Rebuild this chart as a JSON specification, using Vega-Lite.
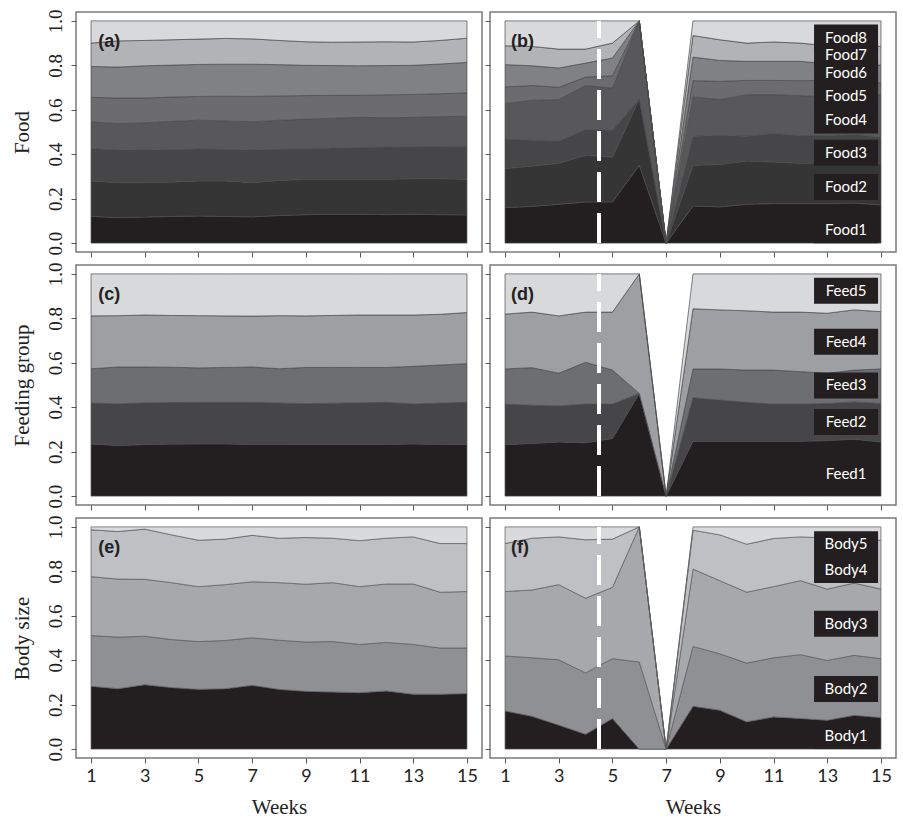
{
  "$schema": "https://vega.github.io/schema/vega-lite/v6.json",
  "padding": {"left": 10, "top": 8, "right": 4, "bottom": 0},
  "background": "white",
  "datasets": {
    "fa": [
      {"w":1,"Food1":0.120,"Food2":0.160,"Food3":0.145,"Food4":0.121,"Food5":0.110,"Food6":0.139,"Food7":0.105,"Food8":0.100},
      {"w":2,"Food1":0.115,"Food2":0.157,"Food3":0.148,"Food4":0.118,"Food5":0.115,"Food6":0.139,"Food7":0.118,"Food8":0.090},
      {"w":3,"Food1":0.117,"Food2":0.155,"Food3":0.147,"Food4":0.122,"Food5":0.112,"Food6":0.145,"Food7":0.114,"Food8":0.088},
      {"w":4,"Food1":0.120,"Food2":0.155,"Food3":0.146,"Food4":0.127,"Food5":0.109,"Food6":0.144,"Food7":0.114,"Food8":0.085},
      {"w":5,"Food1":0.122,"Food2":0.158,"Food3":0.143,"Food4":0.130,"Food5":0.107,"Food6":0.144,"Food7":0.114,"Food8":0.082},
      {"w":6,"Food1":0.120,"Food2":0.160,"Food3":0.142,"Food4":0.128,"Food5":0.111,"Food6":0.144,"Food7":0.116,"Food8":0.079},
      {"w":7,"Food1":0.118,"Food2":0.154,"Food3":0.147,"Food4":0.127,"Food5":0.114,"Food6":0.145,"Food7":0.114,"Food8":0.081},
      {"w":8,"Food1":0.124,"Food2":0.158,"Food3":0.140,"Food4":0.131,"Food5":0.109,"Food6":0.141,"Food7":0.109,"Food8":0.088},
      {"w":9,"Food1":0.128,"Food2":0.159,"Food3":0.138,"Food4":0.133,"Food5":0.106,"Food6":0.136,"Food7":0.106,"Food8":0.094},
      {"w":10,"Food1":0.130,"Food2":0.157,"Food3":0.141,"Food4":0.134,"Food5":0.103,"Food6":0.134,"Food7":0.105,"Food8":0.096},
      {"w":11,"Food1":0.130,"Food2":0.157,"Food3":0.143,"Food4":0.136,"Food5":0.099,"Food6":0.133,"Food7":0.107,"Food8":0.095},
      {"w":12,"Food1":0.128,"Food2":0.159,"Food3":0.145,"Food4":0.132,"Food5":0.103,"Food6":0.132,"Food7":0.107,"Food8":0.094},
      {"w":13,"Food1":0.130,"Food2":0.160,"Food3":0.144,"Food4":0.132,"Food5":0.103,"Food6":0.131,"Food7":0.105,"Food8":0.095},
      {"w":14,"Food1":0.128,"Food2":0.162,"Food3":0.145,"Food4":0.134,"Food5":0.103,"Food6":0.134,"Food7":0.106,"Food8":0.088},
      {"w":15,"Food1":0.127,"Food2":0.160,"Food3":0.149,"Food4":0.135,"Food5":0.105,"Food6":0.137,"Food7":0.109,"Food8":0.078}
    ],
    "fb": [
      {"w":1,"Food1":0.160,"Food2":0.175,"Food3":0.134,"Food4":0.159,"Food5":0.075,"Food6":0.100,"Food7":0.085,"Food8":0.112},
      {"w":2,"Food1":0.165,"Food2":0.182,"Food3":0.116,"Food4":0.180,"Food5":0.066,"Food6":0.089,"Food7":0.087,"Food8":0.115},
      {"w":3,"Food1":0.175,"Food2":0.184,"Food3":0.100,"Food4":0.187,"Food5":0.055,"Food6":0.087,"Food7":0.085,"Food8":0.127},
      {"w":4,"Food1":0.185,"Food2":0.210,"Food3":0.116,"Food4":0.198,"Food5":0.038,"Food6":0.063,"Food7":0.063,"Food8":0.127},
      {"w":5,"Food1":0.185,"Food2":0.202,"Food3":0.121,"Food4":0.190,"Food5":0.055,"Food6":0.080,"Food7":0.067,"Food8":0.100},
      {"w":6,"Food1":0.350,"Food2":0.299,"Food3":0,"Food4":0.351,"Food5":0,"Food6":0,"Food7":0,"Food8":0},
      {"w":7,"Food1":0,"Food2":0,"Food3":0,"Food4":0,"Food5":0,"Food6":0,"Food7":0,"Food8":0},
      {"w":8,"Food1":0.167,"Food2":0.183,"Food3":0.131,"Food4":0.177,"Food5":0.073,"Food6":0.106,"Food7":0.097,"Food8":0.066},
      {"w":9,"Food1":0.163,"Food2":0.191,"Food3":0.130,"Food4":0.162,"Food5":0.082,"Food6":0.094,"Food7":0.093,"Food8":0.085},
      {"w":10,"Food1":0.175,"Food2":0.194,"Food3":0.112,"Food4":0.187,"Food5":0.064,"Food6":0.086,"Food7":0.082,"Food8":0.100},
      {"w":11,"Food1":0.178,"Food2":0.187,"Food3":0.128,"Food4":0.175,"Food5":0.064,"Food6":0.086,"Food7":0.087,"Food8":0.095},
      {"w":12,"Food1":0.178,"Food2":0.181,"Food3":0.125,"Food4":0.180,"Food5":0.067,"Food6":0.087,"Food7":0.082,"Food8":0.100},
      {"w":13,"Food1":0.178,"Food2":0.184,"Food3":0.122,"Food4":0.174,"Food5":0.074,"Food6":0.075,"Food7":0.081,"Food8":0.112},
      {"w":14,"Food1":0.180,"Food2":0.182,"Food3":0.128,"Food4":0.174,"Food5":0.079,"Food6":0.077,"Food7":0.070,"Food8":0.110},
      {"w":15,"Food1":0.172,"Food2":0.187,"Food3":0.117,"Food4":0.192,"Food5":0.052,"Food6":0.080,"Food7":0.085,"Food8":0.115}
    ],
    "ga": [
      {"w":1,"Feed1":0.235,"Feed2":0.184,"Feed3":0.154,"Feed4":0.238,"Feed5":0.189},
      {"w":2,"Feed1":0.228,"Feed2":0.187,"Feed3":0.166,"Feed4":0.231,"Feed5":0.188},
      {"w":3,"Feed1":0.232,"Feed2":0.188,"Feed3":0.161,"Feed4":0.234,"Feed5":0.185},
      {"w":4,"Feed1":0.234,"Feed2":0.187,"Feed3":0.159,"Feed4":0.233,"Feed5":0.187},
      {"w":5,"Feed1":0.235,"Feed2":0.187,"Feed3":0.155,"Feed4":0.235,"Feed5":0.188},
      {"w":6,"Feed1":0.235,"Feed2":0.187,"Feed3":0.157,"Feed4":0.232,"Feed5":0.189},
      {"w":7,"Feed1":0.233,"Feed2":0.189,"Feed3":0.159,"Feed4":0.229,"Feed5":0.190},
      {"w":8,"Feed1":0.233,"Feed2":0.186,"Feed3":0.154,"Feed4":0.239,"Feed5":0.188},
      {"w":9,"Feed1":0.232,"Feed2":0.184,"Feed3":0.163,"Feed4":0.232,"Feed5":0.189},
      {"w":10,"Feed1":0.232,"Feed2":0.186,"Feed3":0.161,"Feed4":0.234,"Feed5":0.187},
      {"w":11,"Feed1":0.232,"Feed2":0.188,"Feed3":0.159,"Feed4":0.236,"Feed5":0.185},
      {"w":12,"Feed1":0.233,"Feed2":0.189,"Feed3":0.157,"Feed4":0.236,"Feed5":0.185},
      {"w":13,"Feed1":0.235,"Feed2":0.180,"Feed3":0.169,"Feed4":0.231,"Feed5":0.185},
      {"w":14,"Feed1":0.233,"Feed2":0.186,"Feed3":0.171,"Feed4":0.228,"Feed5":0.182},
      {"w":15,"Feed1":0.232,"Feed2":0.190,"Feed3":0.174,"Feed4":0.230,"Feed5":0.174}
    ],
    "gb": [
      {"w":1,"Feed1":0.232,"Feed2":0.182,"Feed3":0.158,"Feed4":0.247,"Feed5":0.181},
      {"w":2,"Feed1":0.237,"Feed2":0.172,"Feed3":0.169,"Feed4":0.250,"Feed5":0.172},
      {"w":3,"Feed1":0.244,"Feed2":0.162,"Feed3":0.147,"Feed4":0.258,"Feed5":0.189},
      {"w":4,"Feed1":0.240,"Feed2":0.174,"Feed3":0.188,"Feed4":0.226,"Feed5":0.172},
      {"w":5,"Feed1":0.259,"Feed2":0.155,"Feed3":0.153,"Feed4":0.261,"Feed5":0.172},
      {"w":6,"Feed1":0.462,"Feed2":0,"Feed3":0,"Feed4":0.538,"Feed5":0},
      {"w":7,"Feed1":0,"Feed2":0,"Feed3":0,"Feed4":0,"Feed5":0},
      {"w":8,"Feed1":0.247,"Feed2":0.196,"Feed3":0.129,"Feed4":0.271,"Feed5":0.157},
      {"w":9,"Feed1":0.247,"Feed2":0.185,"Feed3":0.140,"Feed4":0.266,"Feed5":0.162},
      {"w":10,"Feed1":0.247,"Feed2":0.175,"Feed3":0.145,"Feed4":0.267,"Feed5":0.166},
      {"w":11,"Feed1":0.247,"Feed2":0.167,"Feed3":0.153,"Feed4":0.261,"Feed5":0.172},
      {"w":12,"Feed1":0.247,"Feed2":0.167,"Feed3":0.146,"Feed4":0.268,"Feed5":0.172},
      {"w":13,"Feed1":0.250,"Feed2":0.167,"Feed3":0.136,"Feed4":0.270,"Feed5":0.177},
      {"w":14,"Feed1":0.256,"Feed2":0.168,"Feed3":0.143,"Feed4":0.271,"Feed5":0.162},
      {"w":15,"Feed1":0.244,"Feed2":0.173,"Feed3":0.155,"Feed4":0.258,"Feed5":0.170}
    ],
    "ba": [
      {"w":1,"Body1":0.283,"Body2":0.228,"Body3":0.265,"Body4":0.211,"Body5":0.013},
      {"w":2,"Body1":0.272,"Body2":0.232,"Body3":0.261,"Body4":0.214,"Body5":0.021},
      {"w":3,"Body1":0.290,"Body2":0.218,"Body3":0.256,"Body4":0.226,"Body5":0.010},
      {"w":4,"Body1":0.277,"Body2":0.216,"Body3":0.256,"Body4":0.215,"Body5":0.036},
      {"w":5,"Body1":0.269,"Body2":0.215,"Body3":0.247,"Body4":0.209,"Body5":0.060},
      {"w":6,"Body1":0.272,"Body2":0.217,"Body3":0.251,"Body4":0.205,"Body5":0.055},
      {"w":7,"Body1":0.287,"Body2":0.214,"Body3":0.252,"Body4":0.209,"Body5":0.038},
      {"w":8,"Body1":0.269,"Body2":0.221,"Body3":0.259,"Body4":0.200,"Body5":0.051},
      {"w":9,"Body1":0.260,"Body2":0.222,"Body3":0.260,"Body4":0.210,"Body5":0.048},
      {"w":10,"Body1":0.257,"Body2":0.227,"Body3":0.265,"Body4":0.200,"Body5":0.051},
      {"w":11,"Body1":0.254,"Body2":0.217,"Body3":0.260,"Body4":0.207,"Body5":0.062},
      {"w":12,"Body1":0.262,"Body2":0.218,"Body3":0.263,"Body4":0.206,"Body5":0.051},
      {"w":13,"Body1":0.247,"Body2":0.224,"Body3":0.272,"Body4":0.212,"Body5":0.045},
      {"w":14,"Body1":0.247,"Body2":0.208,"Body3":0.251,"Body4":0.219,"Body5":0.075},
      {"w":15,"Body1":0.250,"Body2":0.205,"Body3":0.254,"Body4":0.216,"Body5":0.075}
    ],
    "bb": [
      {"w":1,"Body1":0.172,"Body2":0.247,"Body3":0.290,"Body4":0.216,"Body5":0.075},
      {"w":2,"Body1":0.148,"Body2":0.263,"Body3":0.305,"Body4":0.233,"Body5":0.051},
      {"w":3,"Body1":0.108,"Body2":0.294,"Body3":0.338,"Body4":0.215,"Body5":0.045},
      {"w":4,"Body1":0.067,"Body2":0.276,"Body3":0.336,"Body4":0.263,"Body5":0.058},
      {"w":5,"Body1":0.138,"Body2":0.269,"Body3":0.321,"Body4":0.217,"Body5":0.055},
      {"w":6,"Body1":0,"Body2":0.392,"Body3":0.608,"Body4":0,"Body5":0},
      {"w":7,"Body1":0,"Body2":0,"Body3":0,"Body4":0,"Body5":0},
      {"w":8,"Body1":0.193,"Body2":0.269,"Body3":0.348,"Body4":0.175,"Body5":0.015},
      {"w":9,"Body1":0.175,"Body2":0.254,"Body3":0.329,"Body4":0.206,"Body5":0.036},
      {"w":10,"Body1":0.123,"Body2":0.264,"Body3":0.319,"Body4":0.216,"Body5":0.078},
      {"w":11,"Body1":0.145,"Body2":0.266,"Body3":0.320,"Body4":0.217,"Body5":0.052},
      {"w":12,"Body1":0.138,"Body2":0.287,"Body3":0.333,"Body4":0.197,"Body5":0.045},
      {"w":13,"Body1":0.130,"Body2":0.269,"Body3":0.321,"Body4":0.230,"Body5":0.050},
      {"w":14,"Body1":0.152,"Body2":0.270,"Body3":0.325,"Body4":0.198,"Body5":0.055},
      {"w":15,"Body1":0.142,"Body2":0.265,"Body3":0.313,"Body4":0.220,"Body5":0.060}
    ],
    "lf": [
      {"lab":"Food8","y":0.925},{"lab":"Food7","y":0.848},{"lab":"Food6","y":0.765},{"lab":"Food5","y":0.664},
      {"lab":"Food4","y":0.552},{"lab":"Food3","y":0.407},{"lab":"Food2","y":0.253},{"lab":"Food1","y":0.058}
    ],
    "lg": [
      {"lab":"Feed5","y":0.924},{"lab":"Feed4","y":0.695},{"lab":"Feed3","y":0.498},{"lab":"Feed2","y":0.334},{"lab":"Feed1","y":0.101}
    ],
    "lb": [
      {"lab":"Body5","y":0.922},{"lab":"Body4","y":0.806},{"lab":"Body3","y":0.564},{"lab":"Body2","y":0.271},{"lab":"Body1","y":0.060}
    ]
  },
  "config": {
    "view": {"stroke": "#7a7a7a", "strokeWidth": 1.5},
    "axis": {"grid": false, "domain": false, "tickColor": "#555555", "tickSize": 5, "tickWidth": 1, "labelColor": "#222222", "titleColor": "#222222", "titleFontWeight": "normal"},
    "axisX": {"labelFont": "Lato", "labelFontSize": 18, "labelPadding": 4, "titleFont": "Liberation Serif", "titleFontSize": 21, "titlePadding": 11},
    "axisY": {"labelFont": "Liberation Serif", "labelFontSize": 19, "labelPadding": 6, "titleFont": "Liberation Serif", "titleFontSize": 21, "titlePadding": 14},
    "text": {"font": "Lato"}
  },
  "columns": 2,
  "spacing": {"row": 13, "column": 8},
  "bounds": "flush",
  "concat": [
    {
      "width": 406, "height": 240,
      "layer": [
        {
          "data": {"name": "fa"},
          "transform": [{"fold": ["Food1","Food2","Food3","Food4","Food5","Food6","Food7","Food8"], "as": ["cat","v"]}],
          "mark": {"type": "area", "stroke": "#4a4a4a", "strokeWidth": 0.7},
          "encoding": {
            "x": {"field": "w", "type": "quantitative", "scale": {"domain": [0.44, 15.56], "nice": false, "zero": false}, "axis": {"values": [1,3,5,7,9,11,13,15], "labels": false, "title": null}},
            "y": {"field": "v", "type": "quantitative", "stack": "zero", "scale": {"domain": [-0.04, 1.04], "nice": false, "zero": false}, "axis": {"values": [0,0.2,0.4,0.6,0.8,1], "format": ".1f", "labelAngle": -90, "title": "Food"}},
            "order": {"field": "cat", "type": "ordinal", "sort": "ascending"},
            "color": {"field": "cat", "type": "nominal", "legend": null, "scale": {"domain": ["Food1","Food2","Food3","Food4","Food5","Food6","Food7","Food8","Feed1","Feed2","Feed3","Feed4","Feed5","Body1","Body2","Body3","Body4","Body5"], "range": ["#231f20","#363536","#464547","#58585a","#6c6c6f","#808184","#b2b3b6","#d8d9db","#231f20","#464547","#6d6e71","#9d9fa2","#d8d9db","#231f20","#8f9093","#a6a8ab","#bfc0c3","#d9dadc"]}}
          }
        },
        {
          "data": {"values": [{"t": "(a)"}]},
          "mark": {"type": "text", "font": "Liberation Sans", "fontWeight": "bold", "fontSize": 18, "align": "left", "baseline": "middle", "color": "#222222"},
          "encoding": {"x": {"datum": 1.27}, "y": {"datum": 0.905}, "text": {"field": "t"}}
        }
      ]
    },
    {
      "width": 406, "height": 240,
      "layer": [
        {
          "data": {"name": "fb"},
          "transform": [{"fold": ["Food1","Food2","Food3","Food4","Food5","Food6","Food7","Food8"], "as": ["cat","v"]}],
          "mark": {"type": "area", "stroke": "#4a4a4a", "strokeWidth": 0.7},
          "encoding": {
            "x": {"field": "w", "type": "quantitative", "scale": {"domain": [0.44, 15.56], "nice": false, "zero": false}, "axis": {"values": [1,3,5,7,9,11,13,15], "labels": false, "title": null}},
            "y": {"field": "v", "type": "quantitative", "stack": "zero", "scale": {"domain": [-0.04, 1.04], "nice": false, "zero": false}, "axis": {"values": [0,0.2,0.4,0.6,0.8,1], "labels": false, "title": null}},
            "order": {"field": "cat", "type": "ordinal", "sort": "ascending"},
            "color": {"field": "cat", "type": "nominal", "legend": null, "scale": {"domain": ["Food1","Food2","Food3","Food4","Food5","Food6","Food7","Food8","Feed1","Feed2","Feed3","Feed4","Feed5","Body1","Body2","Body3","Body4","Body5"], "range": ["#231f20","#363536","#464547","#58585a","#6c6c6f","#808184","#b2b3b6","#d8d9db","#231f20","#464547","#6d6e71","#9d9fa2","#d8d9db","#231f20","#8f9093","#a6a8ab","#bfc0c3","#d9dadc"]}}
          }
        },
        {
          "data": {"values": [{"w": 4.5}]},
          "mark": {"type": "rule", "color": "white", "strokeWidth": 4, "strokeDash": [30, 11]},
          "encoding": {"x": {"field": "w", "type": "quantitative"}, "y": {"datum": 0}, "y2": {"datum": 1}}
        },
        {
          "data": {"name": "lf"},
          "mark": {"type": "rect", "width": 64, "height": 26, "color": "#231f20"},
          "encoding": {"x": {"datum": 13.7}, "y": {"field": "y", "type": "quantitative"}}
        },
        {
          "data": {"name": "lf"},
          "mark": {"type": "text", "font": "Lato", "fontSize": 15, "color": "white", "align": "center", "baseline": "middle"},
          "encoding": {"x": {"datum": 13.7}, "y": {"field": "y", "type": "quantitative"}, "text": {"field": "lab"}}
        },
        {
          "data": {"values": [{"t": "(b)"}]},
          "mark": {"type": "text", "font": "Liberation Sans", "fontWeight": "bold", "fontSize": 18, "align": "left", "baseline": "middle", "color": "#222222"},
          "encoding": {"x": {"datum": 1.22}, "y": {"datum": 0.905}, "text": {"field": "t"}}
        }
      ]
    },
    {
      "width": 406, "height": 240,
      "layer": [
        {
          "data": {"name": "ga"},
          "transform": [{"fold": ["Feed1","Feed2","Feed3","Feed4","Feed5"], "as": ["cat","v"]}],
          "mark": {"type": "area", "stroke": "#4a4a4a", "strokeWidth": 0.7},
          "encoding": {
            "x": {"field": "w", "type": "quantitative", "scale": {"domain": [0.44, 15.56], "nice": false, "zero": false}, "axis": {"values": [1,3,5,7,9,11,13,15], "labels": false, "title": null}},
            "y": {"field": "v", "type": "quantitative", "stack": "zero", "scale": {"domain": [-0.04, 1.04], "nice": false, "zero": false}, "axis": {"values": [0,0.2,0.4,0.6,0.8,1], "format": ".1f", "labelAngle": -90, "title": "Feeding group"}},
            "order": {"field": "cat", "type": "ordinal", "sort": "ascending"},
            "color": {"field": "cat", "type": "nominal", "legend": null, "scale": {"domain": ["Food1","Food2","Food3","Food4","Food5","Food6","Food7","Food8","Feed1","Feed2","Feed3","Feed4","Feed5","Body1","Body2","Body3","Body4","Body5"], "range": ["#231f20","#363536","#464547","#58585a","#6c6c6f","#808184","#b2b3b6","#d8d9db","#231f20","#464547","#6d6e71","#9d9fa2","#d8d9db","#231f20","#8f9093","#a6a8ab","#bfc0c3","#d9dadc"]}}
          }
        },
        {
          "data": {"values": [{"t": "(c)"}]},
          "mark": {"type": "text", "font": "Liberation Sans", "fontWeight": "bold", "fontSize": 18, "align": "left", "baseline": "middle", "color": "#222222"},
          "encoding": {"x": {"datum": 1.27}, "y": {"datum": 0.905}, "text": {"field": "t"}}
        }
      ]
    },
    {
      "width": 406, "height": 240,
      "layer": [
        {
          "data": {"name": "gb"},
          "transform": [{"fold": ["Feed1","Feed2","Feed3","Feed4","Feed5"], "as": ["cat","v"]}],
          "mark": {"type": "area", "stroke": "#4a4a4a", "strokeWidth": 0.7},
          "encoding": {
            "x": {"field": "w", "type": "quantitative", "scale": {"domain": [0.44, 15.56], "nice": false, "zero": false}, "axis": {"values": [1,3,5,7,9,11,13,15], "labels": false, "title": null}},
            "y": {"field": "v", "type": "quantitative", "stack": "zero", "scale": {"domain": [-0.04, 1.04], "nice": false, "zero": false}, "axis": {"values": [0,0.2,0.4,0.6,0.8,1], "labels": false, "title": null}},
            "order": {"field": "cat", "type": "ordinal", "sort": "ascending"},
            "color": {"field": "cat", "type": "nominal", "legend": null, "scale": {"domain": ["Food1","Food2","Food3","Food4","Food5","Food6","Food7","Food8","Feed1","Feed2","Feed3","Feed4","Feed5","Body1","Body2","Body3","Body4","Body5"], "range": ["#231f20","#363536","#464547","#58585a","#6c6c6f","#808184","#b2b3b6","#d8d9db","#231f20","#464547","#6d6e71","#9d9fa2","#d8d9db","#231f20","#8f9093","#a6a8ab","#bfc0c3","#d9dadc"]}}
          }
        },
        {
          "data": {"values": [{"w": 4.5}]},
          "mark": {"type": "rule", "color": "white", "strokeWidth": 4, "strokeDash": [30, 11]},
          "encoding": {"x": {"field": "w", "type": "quantitative"}, "y": {"datum": 0}, "y2": {"datum": 1}}
        },
        {
          "data": {"name": "lg"},
          "mark": {"type": "rect", "width": 64, "height": 26, "color": "#231f20"},
          "encoding": {"x": {"datum": 13.7}, "y": {"field": "y", "type": "quantitative"}}
        },
        {
          "data": {"name": "lg"},
          "mark": {"type": "text", "font": "Lato", "fontSize": 15, "color": "white", "align": "center", "baseline": "middle"},
          "encoding": {"x": {"datum": 13.7}, "y": {"field": "y", "type": "quantitative"}, "text": {"field": "lab"}}
        },
        {
          "data": {"values": [{"t": "(d)"}]},
          "mark": {"type": "text", "font": "Liberation Sans", "fontWeight": "bold", "fontSize": 18, "align": "left", "baseline": "middle", "color": "#222222"},
          "encoding": {"x": {"datum": 1.22}, "y": {"datum": 0.905}, "text": {"field": "t"}}
        }
      ]
    },
    {
      "width": 406, "height": 240,
      "layer": [
        {
          "data": {"name": "ba"},
          "transform": [{"fold": ["Body1","Body2","Body3","Body4","Body5"], "as": ["cat","v"]}],
          "mark": {"type": "area", "stroke": "#5a5a5a", "strokeWidth": 0.7},
          "encoding": {
            "x": {"field": "w", "type": "quantitative", "scale": {"domain": [0.44, 15.56], "nice": false, "zero": false}, "axis": {"values": [1,3,5,7,9,11,13,15], "title": "Weeks"}},
            "y": {"field": "v", "type": "quantitative", "stack": "zero", "scale": {"domain": [-0.04, 1.04], "nice": false, "zero": false}, "axis": {"values": [0,0.2,0.4,0.6,0.8,1], "format": ".1f", "labelAngle": -90, "title": "Body size"}},
            "order": {"field": "cat", "type": "ordinal", "sort": "ascending"},
            "color": {"field": "cat", "type": "nominal", "legend": null, "scale": {"domain": ["Food1","Food2","Food3","Food4","Food5","Food6","Food7","Food8","Feed1","Feed2","Feed3","Feed4","Feed5","Body1","Body2","Body3","Body4","Body5"], "range": ["#231f20","#363536","#464547","#58585a","#6c6c6f","#808184","#b2b3b6","#d8d9db","#231f20","#464547","#6d6e71","#9d9fa2","#d8d9db","#231f20","#8f9093","#a6a8ab","#bfc0c3","#d9dadc"]}}
          }
        },
        {
          "data": {"values": [{"t": "(e)"}]},
          "mark": {"type": "text", "font": "Liberation Sans", "fontWeight": "bold", "fontSize": 18, "align": "left", "baseline": "middle", "color": "#222222"},
          "encoding": {"x": {"datum": 1.27}, "y": {"datum": 0.905}, "text": {"field": "t"}}
        }
      ]
    },
    {
      "width": 406, "height": 240,
      "layer": [
        {
          "data": {"name": "bb"},
          "transform": [{"fold": ["Body1","Body2","Body3","Body4","Body5"], "as": ["cat","v"]}],
          "mark": {"type": "area", "stroke": "#5a5a5a", "strokeWidth": 0.7},
          "encoding": {
            "x": {"field": "w", "type": "quantitative", "scale": {"domain": [0.44, 15.56], "nice": false, "zero": false}, "axis": {"values": [1,3,5,7,9,11,13,15], "title": "Weeks"}},
            "y": {"field": "v", "type": "quantitative", "stack": "zero", "scale": {"domain": [-0.04, 1.04], "nice": false, "zero": false}, "axis": {"values": [0,0.2,0.4,0.6,0.8,1], "labels": false, "title": null}},
            "order": {"field": "cat", "type": "ordinal", "sort": "ascending"},
            "color": {"field": "cat", "type": "nominal", "legend": null, "scale": {"domain": ["Food1","Food2","Food3","Food4","Food5","Food6","Food7","Food8","Feed1","Feed2","Feed3","Feed4","Feed5","Body1","Body2","Body3","Body4","Body5"], "range": ["#231f20","#363536","#464547","#58585a","#6c6c6f","#808184","#b2b3b6","#d8d9db","#231f20","#464547","#6d6e71","#9d9fa2","#d8d9db","#231f20","#8f9093","#a6a8ab","#bfc0c3","#d9dadc"]}}
          }
        },
        {
          "data": {"values": [{"w": 4.5}]},
          "mark": {"type": "rule", "color": "white", "strokeWidth": 4, "strokeDash": [30, 11]},
          "encoding": {"x": {"field": "w", "type": "quantitative"}, "y": {"datum": 0}, "y2": {"datum": 1}}
        },
        {
          "data": {"name": "lb"},
          "mark": {"type": "rect", "width": 64, "height": 26, "color": "#231f20"},
          "encoding": {"x": {"datum": 13.7}, "y": {"field": "y", "type": "quantitative"}}
        },
        {
          "data": {"name": "lb"},
          "mark": {"type": "text", "font": "Lato", "fontSize": 15, "color": "white", "align": "center", "baseline": "middle"},
          "encoding": {"x": {"datum": 13.7}, "y": {"field": "y", "type": "quantitative"}, "text": {"field": "lab"}}
        },
        {
          "data": {"values": [{"t": "(f)"}]},
          "mark": {"type": "text", "font": "Liberation Sans", "fontWeight": "bold", "fontSize": 18, "align": "left", "baseline": "middle", "color": "#222222"},
          "encoding": {"x": {"datum": 1.22}, "y": {"datum": 0.905}, "text": {"field": "t"}}
        }
      ]
    }
  ]
}
